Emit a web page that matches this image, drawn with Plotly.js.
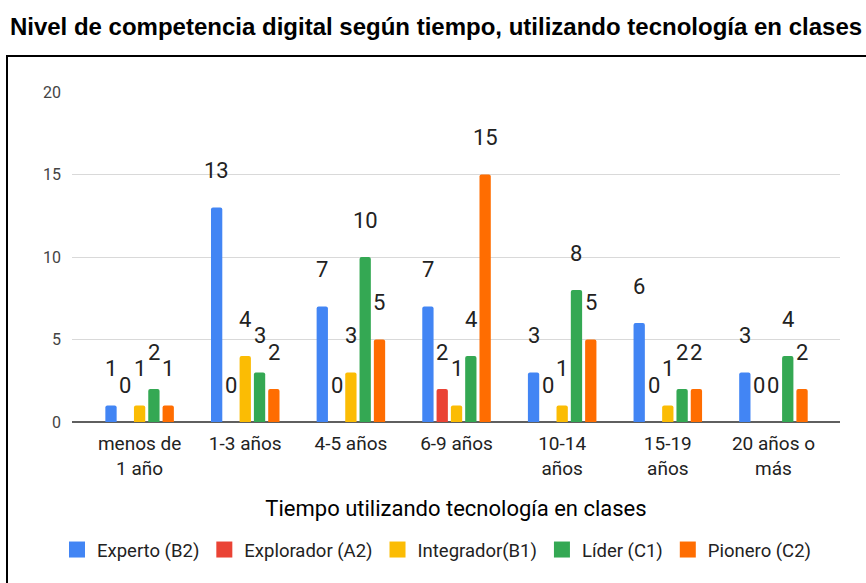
<!DOCTYPE html>
<html>
<head>
<meta charset="utf-8">
<script src="https://cdn.plot.ly/plotly-3.0.1.min.js"></script>
<style>
html,body{margin:0;padding:0;background:#fff;}
#chart{width:866px;height:583px;}
</style>
</head>
<body>
<div id="chart"></div>
<script>
// ---- data ----
const categories = ["menos de 1 año", "1-3 años", "4-5 años", "6-9 años", "10-14 años", "15-19 años", "20 años o más"];
const tickLabels = ["menos de<br>1 año", "1-3 años", "4-5 años", "6-9 años", "10-14<br>años", "15-19<br>años", "20 años o<br>más"];
const seriesNames = ["Experto (B2)", "Explorador (A2)", "Integrador(B1)", "Líder (C1)", "Pionero (C2)"];
const experto    = [1, 13, 7, 7, 3, 6, 3];
const explorador = [0, 0, 0, 2, 0, 0, 0];
const integrador = [1, 4, 3, 1, 1, 1, 0];
const lider      = [2, 3, 10, 4, 8, 2, 4];
const pionero    = [1, 2, 5, 15, 5, 2, 2];
const seriesValues = [experto, explorador, integrador, lider, pionero];
const seriesColors = ["#4285F4", "#EA4335", "#FBBC04", "#34A853", "#FF6D01"];
const yTicks = [0, 5, 10, 15, 20];

// ---- layout constants ----
const W = 866, H = 583;
const mL = 72, mR = 26, mT = 92, mB = 161;
const xRange = [-0.64, 6.63];
const bargap = 0.323, bargroupgap = 0.21;
const plotW = W - mL - mR;
const pxPerCat = plotW / (xRange[1] - xRange[0]);
const slot = pxPerCat * (1 - bargap) / seriesNames.length;
const FONT = 'Roboto, Arial, sans-serif';

const traces = [];
seriesNames.forEach((name, i) => {
  traces.push({
    type: 'bar', name: name, x: categories, y: seriesValues[i],
    marker: {color: seriesColors[i], cornerradius: 2},
    showlegend: false, hoverinfo: 'skip'
  });
});
seriesNames.forEach((name, i) => {
  traces.push({
    type: 'scatter', mode: 'markers', name: name, x: [null], y: [null],
    marker: {color: seriesColors[i], symbol: 'square', size: 17},
    showlegend: true, hoverinfo: 'skip'
  });
});

const annotations = [];
seriesValues.forEach((vals, i) => {
  vals.forEach((v, j) => {
    annotations.push({
      x: categories[j], y: v, xref: 'x', yref: 'y', text: String(v),
      showarrow: false, xshift: (i - (seriesNames.length - 1) / 2) * slot, yshift: 37,
      font: {family: FONT, size: 22, color: '#222'}
    });
  });
});

const plotH = H - mT - mB;
const shapes = [{
  type: 'rect', xref: 'paper', yref: 'paper',
  x0: (7 - mL) / plotW, x1: (W + 10 - mL) / plotW,
  y0: -(H + 10 - (H - mB)) / plotH, y1: ((H - mB) - 56) / plotH,
  line: {color: '#000', width: 2}, fillcolor: 'rgba(0,0,0,0)', layer: 'below'
}];

const layout = {
  width: W, height: H,
  margin: {l: mL, r: mR, t: mT, b: mB, pad: 0},
  paper_bgcolor: '#fff', plot_bgcolor: '#fff',
  font: {family: FONT, color: '#222'},
  title: {
    text: 'Nivel de competencia digital según tiempo, utilizando tecnología en clases',
    font: {family: '"Liberation Sans", Arial, sans-serif', size: 24, color: '#000', weight: 'bold'},
    x: 436 / W, xref: 'container', xanchor: 'center', y: 1 - 35 / H, yanchor: 'bottom', yref: 'container'
  },
  barmode: 'group', bargap: bargap, bargroupgap: bargroupgap,
  xaxis: {
    type: 'category', range: xRange, tickmode: 'array', tickvals: categories, ticktext: tickLabels,
    showgrid: false, zeroline: false, showline: false, ticks: '',
    tickfont: {family: FONT, size: 19, color: '#222'},
    ticklabelstandoff: 8,
    title: {text: 'Tiempo utilizando tecnología en clases', standoff: 21,
      font: {family: FONT, size: 22, color: '#000'}},
    fixedrange: true
  },
  yaxis: {
    range: [0, 20], tickmode: 'array', tickvals: yTicks, ticktext: yTicks.map(String),
    showgrid: true, gridcolor: '#d9d9d9', gridwidth: 1,
    zeroline: true, zerolinecolor: '#5f5f5f', zerolinewidth: 1.5,
    showline: false, ticks: '', ticklabelstandoff: 10,
    tickfont: {family: FONT, size: 16, color: '#444'},
    fixedrange: true
  },
  legend: {
    orientation: 'h', x: (57 - mL) / plotW, xanchor: 'left', y: -(550 - (H - mB)) / plotH, yanchor: 'middle',
    font: {family: FONT, size: 18.5, color: '#222'},
    bgcolor: 'rgba(0,0,0,0)', borderwidth: 0
  },
  annotations: annotations,
  shapes: shapes,
  showlegend: true
};

Plotly.newPlot('chart', traces, layout, {displayModeBar: false, staticPlot: true});
</script>
</body>
</html>
